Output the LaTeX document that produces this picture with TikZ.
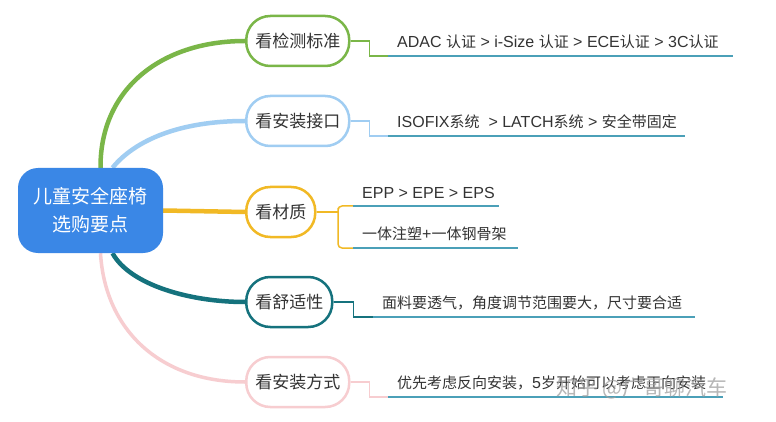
\documentclass[tikz,border=0pt]{standalone}
\usepackage{fontspec}
\setmainfont{Liberation Sans}
\newfontfamily\cjk{Noto Sans CJK SC}
\newcommand\zh[1]{{\cjk\fontsize{15}{18}\selectfont #1}}
\usepackage{xcolor}
\usepackage{tikz}
\usetikzlibrary{backgrounds}
\definecolor{rootblue}{HTML}{3A87E6}
\definecolor{topicgreen}{HTML}{7AB648}
\definecolor{topicsky}{HTML}{A0CDF2}
\definecolor{topicgold}{HTML}{F1B925}
\definecolor{topicteal}{HTML}{15727D}
\definecolor{topicpink}{HTML}{F7CDD0}
\definecolor{linecyan}{HTML}{4BA0B8}
\definecolor{textgray}{HTML}{333333}

\begin{document}
\begin{tikzpicture}[x=1pt, y=-1pt,
  root/.style={fill=rootblue, rounded corners=20pt, text=white, align=center,
    font=\cjk\fontsize{19}{28}\selectfont, minimum width=145pt, minimum height=85pt},
  topic/.style={draw=#1, fill=white, line width=2.5pt, rounded corners=24pt,
    minimum height=50pt, inner xsep=9pt, anchor=west, text=textgray,
    font=\cjk\fontsize{17}{20}\selectfont},
  leaf/.style={anchor=south west, inner xsep=9pt, inner ysep=7pt, text=textgray,
    font=\fontsize{16}{18}\selectfont},
  limb/.style={draw=#1, line width=4.5pt},
  twig/.style={draw=#1, line width=1.5pt},
  uline/.style={draw=linecyan, line width=2pt}]
  \useasboundingbox (0,0) rectangle (776,422);
  \node[root] (root) at (90.5,210.5) {儿童安全座椅\\选购要点};
  \node[topic=topicgreen] (b1) at (245,41) {看检测标准};
  \node[topic=topicsky] (b2) at (245,121) {看安装接口};
  \node[topic=topicgold] (b3) at (245,212) {看材质};
  \node[topic=topicteal] (b4) at (245,302) {看舒适性};
  \node[topic=topicpink] (b5) at (245,382) {看安装方式};
  \begin{scope}[on background layer]
    \fill[white] (0,0) rectangle (776,422);
    \draw[limb=topicgreen] ([xshift=10pt]root.north) .. controls (100,90) and (160,41) .. (b1.west);
    \draw[limb=topicsky] ([xshift=22pt]root.north) .. controls (135,140) and (180,121) .. (b2.west);
    \draw[limb=topicgold] (root.east) -- (b3.west);
    \draw[limb=topicteal] ([xshift=22pt]root.south) .. controls (130,285) and (190,302) .. (b4.west);
    \draw[limb=topicpink, line width=3.5pt] ([xshift=10pt]root.south) .. controls (105,330) and (160,382) .. (b5.west);
  \end{scope}
  \node[leaf] (l1) at (388,56) {ADAC \zh{认证} > i-Size \zh{认证} > ECE\zh{认证} > 3C\zh{认证}};
  \node[leaf] (l2) at (388,136) {ISOFIX\zh{系统}\ \ > LATCH\zh{系统} > \zh{安全带固定}};
  \node[leaf] (l3a) at (353,206) {EPP > EPE > EPS};
  \node[leaf] (l3b) at (353,248) {\zh{一体注塑}+\zh{一体钢骨架}};
  \node[leaf] (l4) at (373,317) {\zh{面料要透气，角度调节范围要大，尺寸要合适}};
  \node[leaf] (l5) at (388,397) {\zh{优先考虑反向安装，}5\zh{岁开始可以考虑正向安装}};
  \coordinate (e1) at (733,56);
  \coordinate (e2) at (685,136);
  \coordinate (e3a) at (499,206);
  \coordinate (e3b) at (518,248);
  \coordinate (e4) at (695,317);
  \coordinate (e5) at (723,397);
  \coordinate (k3) at (338,212);
  \draw[twig=topicgreen] (b1.east) -- ++(19,0) |- (l1.south west);
  \draw[twig=topicsky] (b2.east) -- ++(19,0) |- (l2.south west);
  \draw[twig=topicgold] (b3.east) -- (k3);
  \draw[twig=topicgold, rounded corners=4pt] (l3a.south west) -| (k3) |- (l3b.south west);
  \draw[twig=topicteal] (b4.east) -- ++(20,0) |- (l4.south west);
  \draw[twig=topicpink] (b5.east) -- ++(19,0) |- (l5.south west);
  \draw[uline] (l1.south west) -- (e1);
  \draw[uline] (l2.south west) -- (e2);
  \draw[uline] (l3a.south west) -- (e3a);
  \draw[uline] (l3b.south west) -- (e3b);
  \draw[uline] (l4.south west) -- (e4);
  \draw[uline] (l5.south west) -- (e5);
  \node[text=gray!75, opacity=0.75, font=\cjk\fontsize{21}{24}\selectfont] (wm) at (642,388) {知乎 @广哥聊汽车};
\end{tikzpicture}
\end{document}
